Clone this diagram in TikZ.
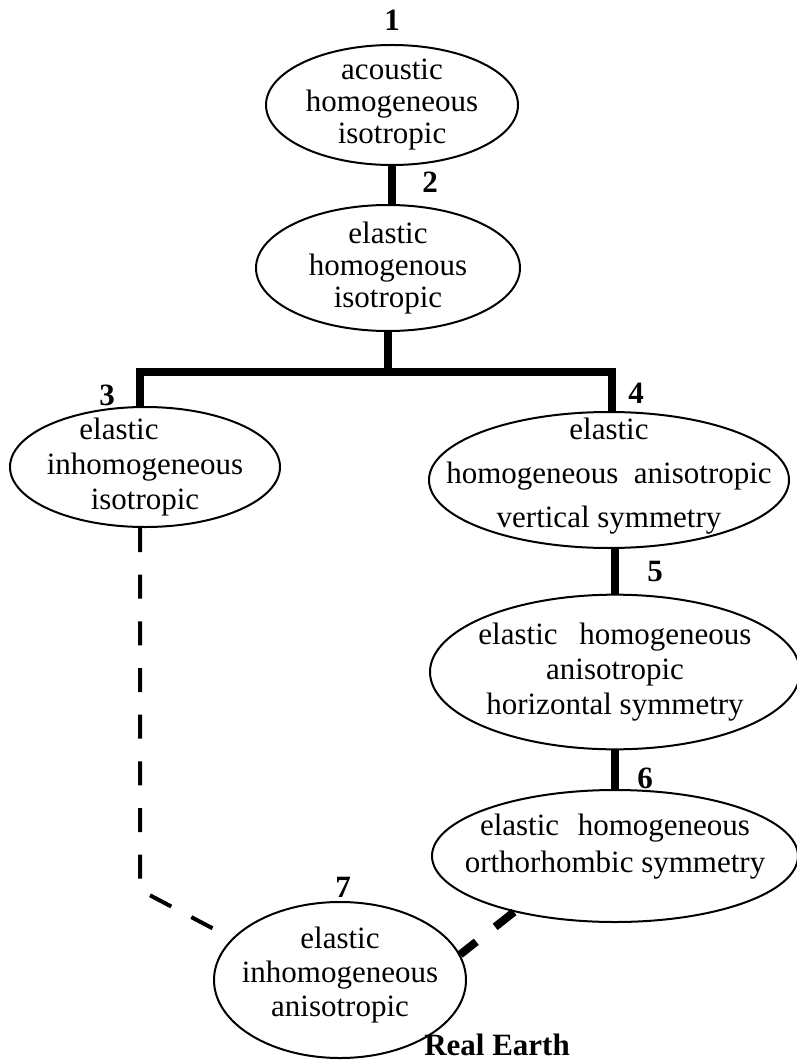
\documentclass[tikz,border=0pt]{standalone}
\usepackage{fontspec}
\setmainfont{Liberation Serif}
\usetikzlibrary{shapes.geometric}
\begin{document}
\begin{tikzpicture}[x=0.75pt,y=-0.75pt,
  ell/.style={draw, ellipse, line width=1.5pt, inner sep=0pt},
  txt/.style={align=center, inner sep=0pt, font=\fontsize{23.25}{#1}\selectfont},
  txt/.default=26pt,
  num/.style={inner sep=0pt, font=\fontsize{23.25}{26}\selectfont\bfseries},
  conn/.style={line width=6pt, line join=miter},
  dconn/.style={line width=6pt, dash pattern=on 18pt off 18pt},
  tconn/.style={line width=3pt, dash pattern=on 18pt off 17pt}]
\useasboundingbox (0,0) rectangle (796,1062);
% ellipses
\node[ell, minimum width=189pt, minimum height=90pt] (e1) at (392,105) {};
\node[ell, minimum width=198pt, minimum height=94.5pt] (e2) at (388,268) {};
\node[ell, minimum width=202.5pt, minimum height=90pt] (e3) at (145,467) {};
\node[ell, minimum width=270pt, minimum height=102pt] (e4) at (609,480) {};
\node[ell, minimum width=277.5pt, minimum height=116pt] (e5) at (615,672) {};
\node[ell, minimum width=274.5pt, minimum height=99pt] (e6) at (615,856) {};
\node[ell, minimum width=189pt, minimum height=117pt] (e7) at (340,980) {};
% texts
\node[txt=24pt] (t1) at (e1) {acoustic\\homogeneous\\isotropic};
\node[txt=24pt] (t2) at (e2) {elastic\\homogenous\\isotropic};
\node[txt=26pt] (t3) at (e3) {\hspace*{-39pt}elastic\\inhomogeneous\\isotropic};
\node[txt=33pt, yshift=3pt] (t4) at (e4) {elastic\\homogeneous\ \ anisotropic\\vertical symmetry};
\node[txt=26pt] (t5) at (e5) {elastic\hspace{0.7em}homogeneous\\anisotropic\\horizontal symmetry};
\node[txt=28pt, yshift=7pt] (t6) at (e6) {elastic\hspace{0.6em}homogeneous\\orthorhombic symmetry};
\node[txt=25.5pt, yshift=4pt] (t7) at (e7) {elastic\\inhomogeneous\\anisotropic};
% numbers
\node[num] (n1) at (392,20) {1};
\node[num] (n2) at (430,182) {2};
\node[num] (n3) at (107,395) {3};
\node[num] (n4) at (636,393) {4};
\node[num] (n5) at (655,571) {5};
\node[num] (n6) at (645,778) {6};
\node[num] (n7) at (343,887) {7};
\node[num] (re) at (497,1045) {Real Earth};
% connectors
\coordinate (jn) at (388,372);
\coordinate (bl) at (140,372);
\coordinate (br) at (612,372);
\coordinate (bend) at (140,890);
\draw[conn] (e1.south) -- (e1.south |- e2.north);
\draw[conn] (e2.south) -- (jn);
\draw[conn] (e3.north -| bl) -- (bl) -- (br) -- (e4.north -| br);
\draw[conn] (e5.north |- e4.south) -- (e5.north);
\draw[conn] (e5.south) -- (e6.north);
\draw[dconn] (e6.209) -- (e7.12);
\draw[tconn] (e3.south -| bend) -- (bend) -- (e7.159);
\end{tikzpicture}
\end{document}
